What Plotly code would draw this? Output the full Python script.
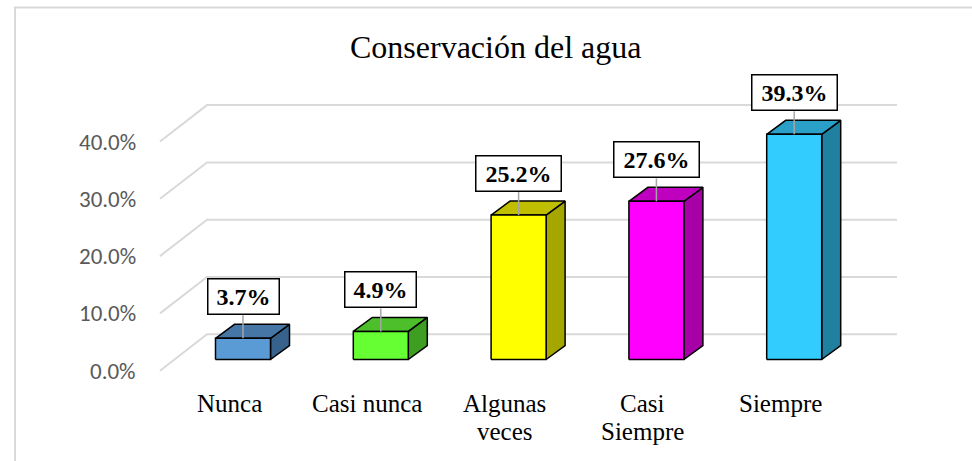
import plotly.graph_objects as go

# ---- data ----
categories = ["Nunca", "Casi nunca", "Algunas<br>veces", "Casi<br>Siempre", "Siempre"]
values = [3.7, 4.9, 25.2, 27.6, 39.3]
value_labels = ["3.7%", "4.9%", "25.2%", "27.6%", "39.3%"]
y_ticks = [0, 10, 20, 30, 40]
y_tick_labels = ["0.0%", "10.0%", "20.0%", "30.0%", "40.0%"]
title_text = "Conservación del agua"

# ---- styles ----
front_colors = ["#5B9BD5", "#66FF33", "#FFFF00", "#FF00FF", "#33CCFF"]
top_colors = ["#4676A6", "#4CBF2A", "#BFBF00", "#BF00BF", "#2A9FC8"]
side_colors = ["#36628C", "#3E9E22", "#A6A600", "#A600A6", "#1F80A0"]

W, H = 972, 461
PX_PER_UNIT_Y = 5.73      # pixels per 1 %
PX_PER_CAT = 137.8        # pixels per category step
X0_PX = 243.0             # pixel x of first category
Y0_PX = 359.5             # pixel y of value 0 (front of bars)

def px_dx(p):
    return p / PX_PER_CAT

def px_dy(p):
    return p / PX_PER_UNIT_Y

x_range = [-X0_PX / PX_PER_CAT, (W - X0_PX) / PX_PER_CAT]
y_range = [(Y0_PX - H) / PX_PER_UNIT_Y, Y0_PX / PX_PER_UNIT_Y]

half_w = px_dx(27.5)
depth_dx = px_dx(19)
depth_dy = px_dy(14)

floor_front_x = px_dx(160 - X0_PX)
back_left_x = px_dx(207 - X0_PX)
back_right_x = px_dx(897 - X0_PX)
floor_front_dy = -px_dy(11.2)
back_dy = px_dy(25.2)

grid_color = "#D9D9D9"
fig = go.Figure()

# ---- gridlines (3D walls) ----
for v in y_ticks:
    fig.add_trace(go.Scatter(
        x=[floor_front_x, back_left_x, back_right_x],
        y=[v + floor_front_dy, v + back_dy, v + back_dy],
        mode="lines", line=dict(color=grid_color, width=2),
        hoverinfo="skip", showlegend=False))

# ---- bars ----
def face(xs, ys, color):
    fig.add_trace(go.Scatter(
        x=xs + [xs[0]], y=ys + [ys[0]], mode="lines", fill="toself",
        fillcolor=color, line=dict(color="#000000", width=1.5),
        hoverinfo="skip", showlegend=False))

for i, v in enumerate(values):
    xl, xr = i - half_w, i + half_w
    # side face
    face([xr, xr + depth_dx, xr + depth_dx, xr],
         [0, depth_dy, v + depth_dy, v], side_colors[i])
    # top face
    face([xl, xr, xr + depth_dx, xl + depth_dx],
         [v, v, v + depth_dy, v + depth_dy], top_colors[i])
    # front face
    face([xl, xr, xr, xl], [0, 0, v, v], front_colors[i])

# ---- leader lines & data labels ----
label_center = px_dy(42)
label_gap = px_dy(23)
annotations = []
for i, v in enumerate(values):
    fig.add_trace(go.Scatter(
        x=[i, i], y=[v, v + label_gap], mode="lines",
        line=dict(color="#A6A6A6", width=1.5),
        hoverinfo="skip", showlegend=False))
    annotations.append(dict(
        x=i, y=v + label_center, xref="x", yref="y",
        text="<b>%s</b>" % value_labels[i], showarrow=False,
        font=dict(family="Liberation Serif, Times New Roman, serif", size=24, color="#000000"),
        bgcolor="#FFFFFF", bordercolor="#000000", borderwidth=1.5, borderpad=0,
        width=14 * len(value_labels[i]) + 14, height=34,
        xanchor="center", yanchor="middle"))

# ---- y tick labels ----
for v, t in zip(y_ticks, y_tick_labels):
    annotations.append(dict(
        x=px_dx(138 - X0_PX), y=v + floor_front_dy, xref="x", yref="y",
        text=t, showarrow=False, xanchor="right", yanchor="middle",
        font=dict(family="Carlito, Calibri, Lato, Open Sans, sans-serif", size=23, color="#595959")))

# ---- category labels ----
cat_shift = px_dx(-14)
line_step = px_dy(28)
for i, c in enumerate(categories):
    for j, line in enumerate(c.split("<br>")):
        annotations.append(dict(
            x=i + cat_shift, y=px_dy(Y0_PX - 403) - j * line_step, xref="x", yref="y",
            text=line, showarrow=False, xanchor="center", yanchor="middle",
            font=dict(family="Liberation Serif, Times New Roman, serif", size=25, color="#000000")))

# ---- title ----
annotations.append(dict(
    x=495 / W, y=1 - 47 / H, xref="paper", yref="paper",
    text=title_text, showarrow=False, xanchor="center", yanchor="middle",
    font=dict(family="Liberation Serif, Times New Roman, serif", size=32, color="#000000")))

fig.update_layout(
    width=W, height=H, margin=dict(l=0, r=0, t=0, b=0),
    paper_bgcolor="#FFFFFF", plot_bgcolor="#FFFFFF",
    xaxis=dict(range=x_range, visible=False, fixedrange=True),
    yaxis=dict(range=y_range, visible=False, fixedrange=True),
    annotations=annotations,
    shapes=[dict(type="rect", xref="paper", yref="paper",
                 x0=15 / W, x1=1.02, y0=-0.02, y1=1 - 7.5 / H,
                 line=dict(color="#D9D9D9", width=2), fillcolor="rgba(0,0,0,0)",
                 layer="below")],
)

fig.write_html("out.html", config={"displayModeBar": False},
               post_script="document.body.style.margin='0';document.body.style.overflow='hidden';")
